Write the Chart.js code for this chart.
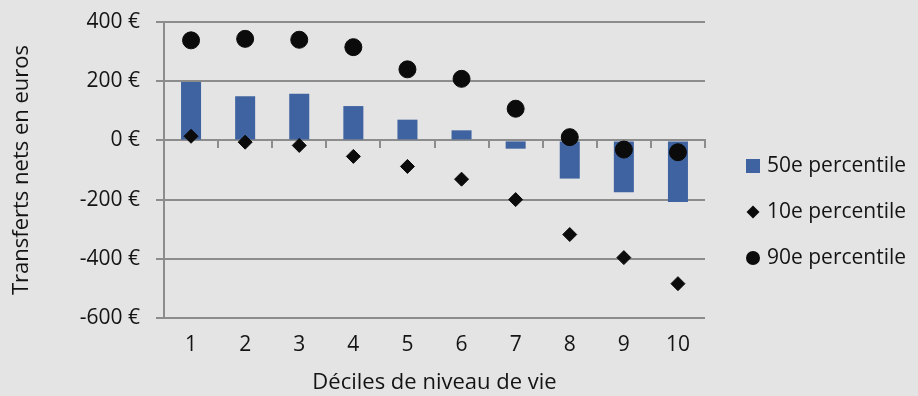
<!DOCTYPE html>
<html lang="fr">
<head>
<meta charset="utf-8">
<title>Transferts nets par décile de niveau de vie</title>
<script src="https://cdn.jsdelivr.net/npm/chart.js@4.4.1/dist/chart.umd.min.js"></script>
<style>
  html, body { margin: 0; padding: 0; background: #e4e4e4; }
  #wrap { position: relative; width: 918px; height: 396px; }
</style>
</head>
<body>
<div id="wrap"><canvas id="transferts"></canvas></div>
<script>
// deciles of living standard
const deciles = ["1", "2", "3", "4", "5", "6", "7", "8", "9", "10"];

// net transfers in euros, by percentile within each decile
const p50 = [197, 149, 158, 116, 70, 34, -28, -129, -175, -208];
const p10 = [14, -6, -17, -54, -88, -131, -200, -318, -396, -484];
const p90 = [338, 343, 340, 315, 240, 208, 107, 11, -31, -40];

const yMin = -600;
const yMax = 400;
const yStep = 200;

const barBlue = "#3f63a1";
const markBlack = "#0b0b0b";
const gridGrey = "#8c8c8c";
const textColor = "#141414";
const fontFamily = "'Open Sans', sans-serif";

// legend stacked on the right, outside the plot
const sideLegend = {
  id: "sideLegend",
  afterDraw(chart) {
    const ctx = chart.ctx;
    const markX = 753;
    const textX = 767;
    const firstY = 166;
    const rowGap = 46;
    ctx.save();
    ctx.font = "21px " + fontFamily;
    ctx.textBaseline = "middle";
    ctx.textAlign = "left";
    chart.data.datasets.forEach((ds, i) => {
      const y = firstY + i * rowGap;
      ctx.fillStyle = ds.legendColor;
      ctx.strokeStyle = ds.legendColor;
      Chart.helpers.drawPoint(ctx, { pointStyle: ds.legendStyle, radius: ds.legendRadius, borderWidth: 0 }, markX, y);
      ctx.fillStyle = textColor;
      ctx.fillText(ds.label, textX, y);
    });
    ctx.restore();
  }
};

new Chart(document.getElementById("transferts"), {
  type: "bar",
  data: {
    labels: deciles,
    datasets: [
      {
        label: "50e percentile",
        data: p50,
        backgroundColor: barBlue,
        barPercentage: 0.37,
        categoryPercentage: 1,
        order: 3,
        legendStyle: "rect",
        legendRadius: 9.9,
        legendColor: barBlue
      },
      {
        type: "line",
        label: "10e percentile",
        data: p10,
        showLine: false,
        pointStyle: "rectRot",
        pointRadius: 7,
        pointBorderWidth: 1,
        pointBackgroundColor: markBlack,
        pointBorderColor: markBlack,
        order: 2,
        legendStyle: "rectRot",
        legendRadius: 6.5,
        legendColor: markBlack
      },
      {
        type: "line",
        label: "90e percentile",
        data: p90,
        showLine: false,
        pointStyle: "circle",
        pointRadius: 8.5,
        pointBorderWidth: 1,
        pointBackgroundColor: markBlack,
        pointBorderColor: markBlack,
        order: 1,
        legendStyle: "circle",
        legendRadius: 7,
        legendColor: markBlack
      }
    ]
  },
  options: {
    responsive: true,
    maintainAspectRatio: false,
    animation: false,
    layout: {
      padding: { top: 22, right: 213, bottom: 0, left: 0 }
    },
    plugins: {
      legend: { display: false },
      tooltip: { enabled: false }
    },
    scales: {
      y: {
        min: yMin,
        max: yMax,
        afterFit(scale) {
          // fixed gutter; the label overhang fits inside the layout padding
          scale.width = 164;
          scale.paddingTop = 0;
          scale.paddingBottom = 0;
        },
        ticks: {
          stepSize: yStep,
          padding: 16,
          color: textColor,
          font: { family: fontFamily, size: 21 },
          callback: (v) => v + " €"
        },
        grid: {
          color: gridGrey,
          lineWidth: 2,
          tickLength: 8
        },
        border: { display: true, color: gridGrey, width: 2 },
        title: {
          display: true,
          text: "Transferts nets en euros",
          color: textColor,
          font: { family: fontFamily, size: 22 },
          padding: { top: 9, bottom: 0 }
        }
      },
      x: {
        position: "bottom",
        afterFit(scale) { scale.height = 78; },
        grid: { display: false },
        border: { display: false },
        ticks: {
          padding: 6,
          color: textColor,
          font: { family: fontFamily, size: 21 }
        },
        title: {
          display: true,
          text: "Déciles de niveau de vie",
          color: textColor,
          font: { family: fontFamily, size: 22 },
          padding: { top: 0, bottom: 0 }
        }
      },
      // axis line through zero with its category tick marks
      xZero: {
        type: "category",
        position: { y: 0 },
        offset: true,
        ticks: { display: false },
        grid: {
          offset: true,
          drawOnChartArea: false,
          drawTicks: true,
          tickLength: 7,
          color: gridGrey,
          lineWidth: 2
        },
        border: { display: true, color: gridGrey, width: 2 }
      }
    }
  },
  plugins: [sideLegend]
});
</script>
</body>
</html>
